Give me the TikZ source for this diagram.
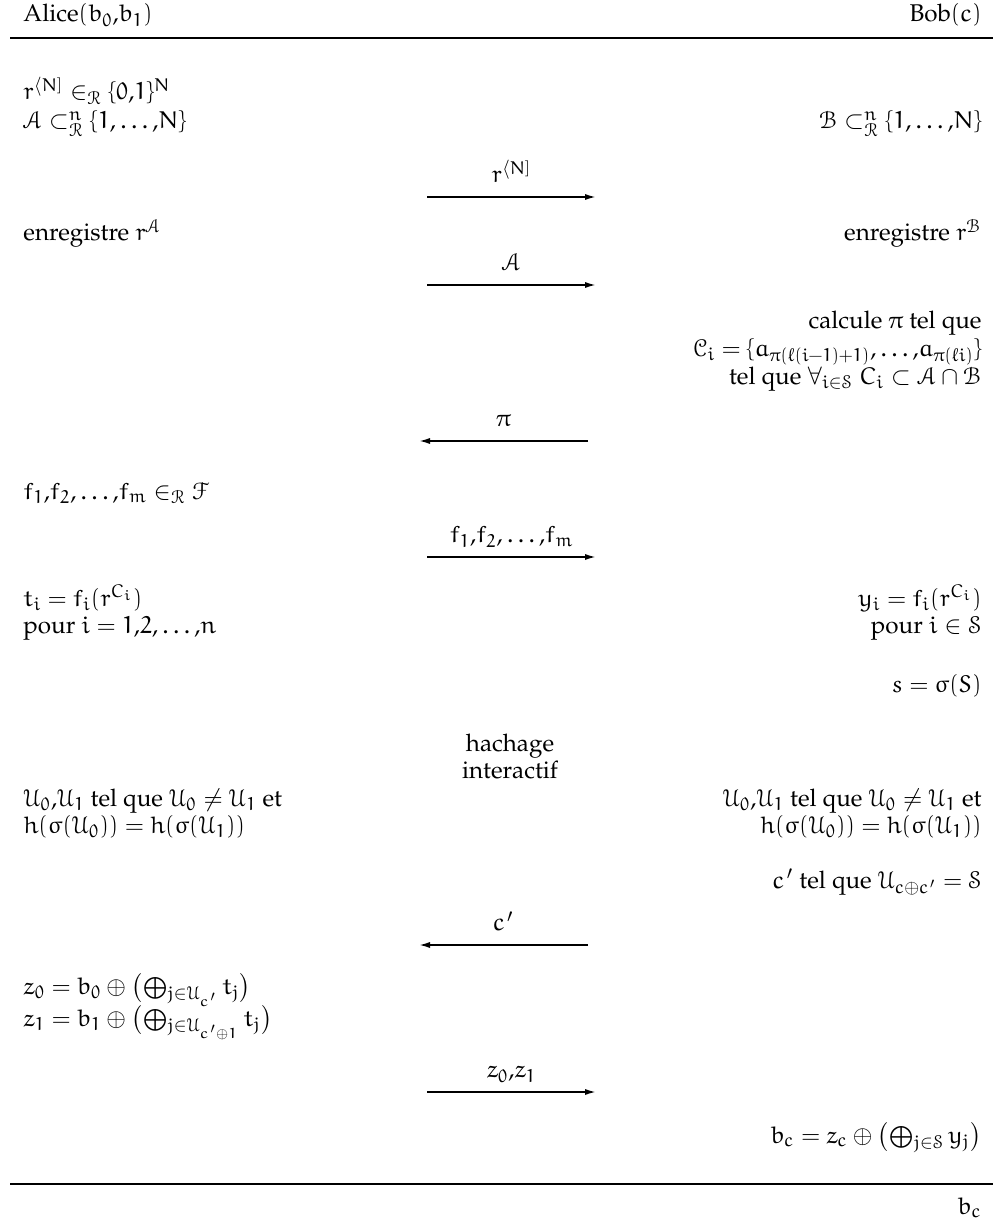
\documentclass[tikz,border=0pt]{standalone}
\usepackage{amsmath}
\IfFileExists{mathpazo.sty}{\usepackage[T1]{fontenc}\usepackage{mathpazo}}{}
\IfFileExists{euler.sty}{\usepackage{euler}}{}
\IfFileExists{eucal.sty}{\usepackage[mathcal]{eucal}}{}
\usepackage{tikz}
\usetikzlibrary{
	arrows.meta,
	positioning
}

\begin{document}
\begin{tikzpicture}[
    x=0.4545pt, y=-0.4545pt,
    every node/.style={font=\fontsize{11}{13}\selectfont},
    lft/.style={anchor=base west, inner sep=0pt},
    rgt/.style={anchor=base east, inner sep=0pt},
    mid/.style={anchor=base, inner sep=0pt},
    rulel/.style={line width=0.85pt},
    msg/.style={line width=0.8pt,-{Latex[length=5pt,width=2.8pt]}},
    lbl/.style={midway, anchor=base, inner sep=0pt, yshift=6.4pt}
]
\useasboundingbox (0,0) rectangle (993,1226);

% Rules
\coordinate (topl) at (10,38);
\coordinate (topr) at (993,38);
\coordinate (botl) at (10,1184);
\coordinate (botr) at (993,1184);
\draw[rulel] (topl) -- (topr);
\draw[rulel] (botl) -- (botr);

% Nodes
\node[lft] (alice) at (23,22) {Alice$(b_0{,}b_1)$};
\node[rgt] (bob) at (982,22) {Bob$(c)$};

\node[lft] (rand) at (23,100) {$r^{\langle N]}\in_{\mathcal{R}}\{0{,}1\}^N$};
\node[lft] (setA) at (23,129) {$\mathcal{A}\subset^n_{\mathcal{R}}\{1,\ldots{,}N\}$};
\node[rgt] (setB) at (982,129) {$\mathcal{B}\subset^n_{\mathcal{R}}\{1,\ldots{,}N\}$};

\node[lft] (saveA) at (23,241) {enregistre $r^{\mathcal{A}}$};
\node[rgt] (saveB) at (982,241) {enregistre $r^{\mathcal{B}}$};

\node[rgt] (perm1) at (982,329) {calcule $\pi$ tel que};
\node[rgt] (perm2) at (982,356) {$\mathcal{C}_i=\{a_{\pi(\ell(i-1)+1)},\ldots{,}a_{\pi(\ell i)}\}$};
\node[rgt] (perm3) at (982,384) {tel que $\forall_{i\in\mathcal{S}}\ C_i\subset\mathcal{A}\cap\mathcal{B}$};

\node[lft] (funcs) at (23,499) {$f_1{,}f_2{,}\ldots{,}f_m\in_{\mathcal{R}}\mathcal{F}$};

\node[lft] (tval) at (23,606) {$t_i=f_i(r^{C_i})$};
\node[lft] (tidx) at (23,633) {pour $i=1{,}2{,}\ldots{,}n$};
\node[rgt] (yval) at (982,606) {$y_i=f_i(r^{C_i})$};
\node[rgt] (yidx) at (982,633) {pour $i\in\mathcal{S}$};

\node[rgt] (sval) at (982,692) {$s=\sigma(S)$};

\node[mid] (hash1) at (510,751) {hachage};
\node[mid] (hash2) at (510,778) {interactif};

\node[lft] (colA1) at (23,806) {$\mathcal{U}_0{,}\mathcal{U}_1$ tel que $\mathcal{U}_0\neq\mathcal{U}_1$ et};
\node[lft] (colA2) at (23,833) {$h(\sigma(\mathcal{U}_0))=h(\sigma(\mathcal{U}_1))$};
\node[rgt] (colB1) at (982,806) {$\mathcal{U}_0{,}\mathcal{U}_1$ tel que $\mathcal{U}_0\neq\mathcal{U}_1$ et};
\node[rgt] (colB2) at (982,833) {$h(\sigma(\mathcal{U}_0))=h(\sigma(\mathcal{U}_1))$};

\node[rgt] (choice) at (982,888) {$c'$ tel que $\mathcal{U}_{c\oplus c'}=\mathcal{S}$};

\node[lft] (zzero) at (23,994) {$z_0=b_0\oplus\bigl(\bigoplus_{j\in\mathcal{U}_{c'}}t_j\bigr)$};
\node[lft] (zone) at (23,1026) {$z_1=b_1\oplus\bigl(\bigoplus_{j\in\mathcal{U}_{c'\oplus1}}t_j\bigr)$};

\node[rgt] (bval) at (982,1143) {$b_c=z_c\oplus\bigl(\bigoplus_{j\in\mathcal{S}}y_j\bigr)$};

\node[rgt] (out) at (982,1214) {$b_c$};

% Messages
\coordinate (m1a) at (427,197);  \coordinate (m1b) at (596,197);
\coordinate (m2a) at (427,285);  \coordinate (m2b) at (596,285);
\coordinate (m3a) at (588,441);  \coordinate (m3b) at (419,441);
\coordinate (m4a) at (427,557);  \coordinate (m4b) at (596,557);
\coordinate (m5a) at (588,945);  \coordinate (m5b) at (419,945);
\coordinate (m6a) at (427,1092); \coordinate (m6b) at (596,1092);

\draw[msg] (m1a) -- node[lbl] {$r^{\langle N]}$} (m1b);
\draw[msg] (m2a) -- node[lbl] {$\mathcal{A}$} (m2b);
\draw[msg] (m3a) -- node[lbl] {$\pi$} (m3b);
\draw[msg] (m4a) -- node[lbl] {$f_1{,}f_2{,}\ldots{,}f_m$} (m4b);
\draw[msg] (m5a) -- node[lbl] {$c'$} (m5b);
\draw[msg] (m6a) -- node[lbl] {$z_0{,}z_1$} (m6b);

\end{tikzpicture}
\end{document}
